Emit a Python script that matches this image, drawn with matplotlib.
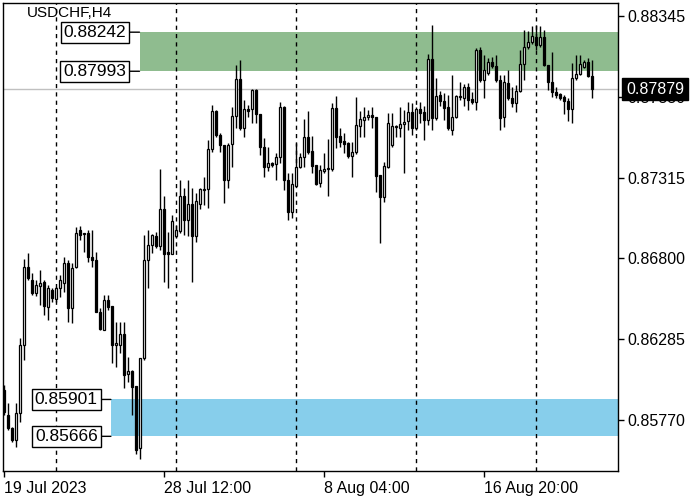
import numpy as np
import pandas as pd
import matplotlib
matplotlib.use("Agg")
import matplotlib.pyplot as plt
from matplotlib.patches import Rectangle
from matplotlib.transforms import blended_transform_factory

plt.rcParams['font.family'] = ['Liberation Sans', 'DejaVu Sans']

symbol = "USDCHF,H4"
start_time = "2023-07-19 20:00"

opens = [0.85961, 0.85802, 0.85719, 0.85642, 0.85815, 0.86248, 0.86745, 0.86662, 0.86579, 0.86624,
         0.86650, 0.86490, 0.86599, 0.86541, 0.86611, 0.86643, 0.86771, 0.86484, 0.86745, 0.86981,
         0.86962, 0.86962, 0.86809, 0.86790, 0.86458, 0.86344, 0.86535, 0.86497, 0.86248, 0.86248,
         0.86318, 0.86063, 0.86082, 0.85987, 0.85591, 0.86165, 0.86790, 0.86885, 0.86943, 0.86879,
         0.87115, 0.86841, 0.86828, 0.86943, 0.86975, 0.87198, 0.87045, 0.87147, 0.86943, 0.87147,
         0.87236, 0.87242, 0.87497, 0.87739, 0.87586, 0.87523, 0.87300, 0.87529, 0.87708, 0.87943,
         0.87631, 0.87752, 0.87752, 0.87873, 0.87720, 0.87510, 0.87383, 0.87408, 0.87402, 0.87446,
         0.87765, 0.87300, 0.87096, 0.87261, 0.87383, 0.87446, 0.87574, 0.87484, 0.87395, 0.87281,
         0.87357, 0.87370, 0.87370, 0.87759, 0.87580, 0.87548, 0.87535, 0.87453, 0.87478, 0.87644,
         0.87682, 0.87701, 0.87714, 0.87701, 0.87332, 0.87191, 0.87383, 0.87523, 0.87637, 0.87631,
         0.87657, 0.87676, 0.87733, 0.87631, 0.87752, 0.87733, 0.87682, 0.88071, 0.87695, 0.87841,
         0.87803, 0.87765, 0.87618, 0.87701, 0.87829, 0.87822, 0.87892, 0.87816, 0.87797, 0.88128,
         0.87937, 0.87982, 0.88052, 0.88026, 0.87937, 0.87701, 0.87918, 0.87822, 0.87790, 0.87867,
         0.88039, 0.88147, 0.88179, 0.88211, 0.88160, 0.88211, 0.88033, 0.87924, 0.87861, 0.87848,
         0.87829, 0.87803, 0.87752, 0.87950, 0.87975, 0.88020, 0.88052, 0.87963]

highs = [0.85993, 0.85878, 0.85725, 0.85878, 0.86293, 0.86796, 0.86834, 0.86707, 0.86662, 0.86726,
         0.86662, 0.86630, 0.86611, 0.86618, 0.86694, 0.86809, 0.86790, 0.86771, 0.87000, 0.87006,
         0.86962, 0.86981, 0.86981, 0.86841, 0.86484, 0.86567, 0.86567, 0.86497, 0.86395, 0.86395,
         0.86395, 0.86172, 0.86089, 0.85987, 0.86165, 0.86949, 0.86981, 0.86956, 0.86968, 0.87370,
         0.87198, 0.86968, 0.87077, 0.87013, 0.87300, 0.87249, 0.87300, 0.87249, 0.87217, 0.87249,
         0.87319, 0.87555, 0.87778, 0.87746, 0.87599, 0.87523, 0.87535, 0.87765, 0.88033, 0.88065,
         0.87810, 0.87778, 0.87880, 0.87880, 0.87720, 0.87567, 0.87510, 0.87414, 0.87472, 0.87797,
         0.87771, 0.87344, 0.87344, 0.87535, 0.87472, 0.87688, 0.87739, 0.87580, 0.87395, 0.87395,
         0.87472, 0.87561, 0.87790, 0.87835, 0.87631, 0.87599, 0.87542, 0.87542, 0.87829, 0.87739,
         0.87765, 0.87746, 0.87765, 0.87701, 0.87332, 0.87414, 0.87727, 0.87727, 0.87650, 0.87765,
         0.87746, 0.87797, 0.87790, 0.87765, 0.87797, 0.87771, 0.88103, 0.88288, 0.87950, 0.87867,
         0.87854, 0.87841, 0.87969, 0.87841, 0.87924, 0.87912, 0.87918, 0.87861, 0.88141, 0.88147,
         0.88096, 0.88077, 0.88084, 0.88096, 0.87969, 0.87969, 0.88001, 0.87892, 0.87905, 0.88128,
         0.88256, 0.88249, 0.88281, 0.88288, 0.88281, 0.88256, 0.88033, 0.88116, 0.87892, 0.87854,
         0.87841, 0.87822, 0.88045, 0.88096, 0.88096, 0.88065, 0.88077, 0.88065]

lows = [0.85802, 0.85706, 0.85630, 0.85598, 0.85757, 0.86152, 0.86662, 0.86567, 0.86560, 0.86503,
        0.86439, 0.86407, 0.86522, 0.86522, 0.86554, 0.86586, 0.86395, 0.86388, 0.86739, 0.86917,
        0.86841, 0.86777, 0.86745, 0.86458, 0.86344, 0.86344, 0.86471, 0.86133, 0.86108, 0.86197,
        0.85974, 0.86012, 0.85802, 0.85553, 0.85521, 0.86152, 0.86611, 0.86834, 0.86866, 0.86854,
        0.86650, 0.86611, 0.86828, 0.86930, 0.86962, 0.86949, 0.86943, 0.86650, 0.86904, 0.87115,
        0.87140, 0.87121, 0.87478, 0.87574, 0.87478, 0.87153, 0.87249, 0.87383, 0.87631, 0.87618,
        0.87574, 0.87701, 0.87663, 0.87663, 0.87459, 0.87319, 0.87357, 0.87383, 0.87300, 0.87408,
        0.87236, 0.87045, 0.87058, 0.87255, 0.87376, 0.87383, 0.87465, 0.87344, 0.87268, 0.87255,
        0.87344, 0.87198, 0.87357, 0.87504, 0.87510, 0.87472, 0.87440, 0.87319, 0.87465, 0.87574,
        0.87574, 0.87682, 0.87631, 0.87223, 0.86898, 0.87159, 0.87376, 0.87510, 0.87574, 0.87574,
        0.87344, 0.87618, 0.87586, 0.87618, 0.87663, 0.87555, 0.87650, 0.87618, 0.87682, 0.87771,
        0.87682, 0.87618, 0.87586, 0.87695, 0.87810, 0.87771, 0.87746, 0.87784, 0.87746, 0.87924,
        0.87822, 0.87969, 0.88014, 0.87924, 0.87618, 0.87637, 0.87810, 0.87765, 0.87733, 0.87861,
        0.87937, 0.88135, 0.88167, 0.88128, 0.88147, 0.88026, 0.87873, 0.87829, 0.87822, 0.87810,
        0.87720, 0.87676, 0.87663, 0.87937, 0.87969, 0.88014, 0.87956, 0.87822]

closes = [0.85821, 0.85719, 0.85642, 0.85815, 0.86248, 0.86745, 0.86675, 0.86579, 0.86630, 0.86643,
          0.86497, 0.86611, 0.86548, 0.86611, 0.86662, 0.86771, 0.86484, 0.86739, 0.86962, 0.86949,
          0.86956, 0.86809, 0.86790, 0.86458, 0.86350, 0.86535, 0.86490, 0.86248, 0.86261, 0.86318,
          0.86057, 0.86082, 0.85980, 0.85579, 0.86165, 0.86790, 0.86885, 0.86949, 0.86879, 0.87115,
          0.86828, 0.86828, 0.87038, 0.86981, 0.87198, 0.87045, 0.87147, 0.86943, 0.87166, 0.87242,
          0.87242, 0.87497, 0.87739, 0.87586, 0.87523, 0.87300, 0.87523, 0.87708, 0.87943, 0.87631,
          0.87752, 0.87739, 0.87873, 0.87720, 0.87510, 0.87383, 0.87408, 0.87395, 0.87446, 0.87765,
          0.87300, 0.87096, 0.87274, 0.87383, 0.87446, 0.87574, 0.87478, 0.87389, 0.87274, 0.87363,
          0.87370, 0.87376, 0.87759, 0.87574, 0.87542, 0.87529, 0.87453, 0.87478, 0.87650, 0.87688,
          0.87701, 0.87714, 0.87701, 0.87325, 0.87191, 0.87389, 0.87663, 0.87644, 0.87644, 0.87657,
          0.87669, 0.87733, 0.87631, 0.87752, 0.87727, 0.87682, 0.88071, 0.87695, 0.87835, 0.87803,
          0.87759, 0.87631, 0.87701, 0.87835, 0.87835, 0.87892, 0.87810, 0.87797, 0.88128, 0.87937,
          0.88001, 0.88052, 0.88026, 0.87937, 0.87695, 0.87924, 0.87822, 0.87790, 0.87867, 0.88039,
          0.88147, 0.88179, 0.88218, 0.88160, 0.88211, 0.88033, 0.87924, 0.87861, 0.87841, 0.87822,
          0.87803, 0.87752, 0.87950, 0.87975, 0.88039, 0.88052, 0.87963, 0.87879]

y_ticks = [0.88345, 0.87830, 0.87315, 0.86800, 0.86285, 0.85770]
zone_upper = [0.87993, 0.88242]
zone_lower = [0.85666, 0.85901]

o = np.array(opens); h = np.array(highs); l = np.array(lows); c = np.array(closes)
n = len(o)
idx = np.arange(n)
dates = pd.date_range(start_time, periods=3 * n, freq="4h")
dates = dates[dates.weekday < 5][:n]

fig = plt.figure(figsize=(7, 5), dpi=100)
ax = fig.add_axes([3 / 700, 1 - 471 / 500, 615 / 700, 468 / 500])
xmin, xmax = -0.175, 153.575
ax.set_xlim(xmin, xmax)
ax.set_ylim(0.85445, 0.88428)

# zones
ax.add_patch(Rectangle((33.95, zone_upper[0]), xmax - 33.95 + 5, zone_upper[1] - zone_upper[0],
                       facecolor="#8fbc8f", edgecolor="none", zorder=0.5))
ax.add_patch(Rectangle((26.8, zone_lower[0]), xmax - 26.8 + 5, zone_lower[1] - zone_lower[0],
                       facecolor="#87ceeb", edgecolor="none", zorder=0.5))

# week separators
for i in idx[(dates.weekday == 0) & (dates.hour == 0)]:
    ax.axvline(i, color="black", lw=1, ls=(0, (3, 3)), zorder=1)

# last price line
ax.axhline(c[-1], color="#c0c0c0", lw=1, zorder=1.5)

# candles
up = c >= o
ax.vlines(idx, l, h, color="black", lw=1, zorder=3)
ax.bar(idx, np.maximum(np.abs(c - o), 1e-6), bottom=np.minimum(o, c), width=0.55,
       color=np.where(up, "white", "black"), edgecolor="black", linewidth=0.9, zorder=4)

# zone labels
for x0, vals in [(33.95, zone_upper), (26.8, zone_lower)]:
    for v in vals:
        ax.annotate(f"{v:.5f}", xy=(x0, v), xytext=(-9.5, 0), textcoords="offset points",
                    ha="right", va="center", fontsize=12.5, color="black", zorder=6,
                    bbox=dict(boxstyle="square,pad=0.18", fc="white", ec="black", lw=1),
                    arrowprops=dict(arrowstyle="-", color="black", lw=1, shrinkA=0, shrinkB=0))

ax.text((27 - 3) / 615, 1 - 3 / 468, symbol, transform=ax.transAxes, ha="left", va="top",
        fontsize=11, color="black", zorder=6)

# axes styling
for s in ax.spines.values():
    s.set_color("black"); s.set_linewidth(1)
ax.yaxis.tick_right()
ax.set_yticks(y_ticks)
ax.set_yticklabels([f"{t:.5f}" for t in y_ticks])
ax.tick_params(axis="y", direction="out", length=4, width=1, labelsize=11.5, pad=3)
xt = list(range(0, n, 40))
ax.set_xticks(xt)
xl = []
for k, i in enumerate(xt):
    d = dates[i]
    xl.append(f"{d.day} {d:%b %Y}" if k == 0 else f"{d.day} {d:%b %H:%M}")
ax.set_xticklabels(xl)
for lbl in ax.get_xticklabels():
    lbl.set_ha("left")
ax.tick_params(axis="x", direction="out", length=4, width=1, labelsize=11.5, pad=3)

tr = blended_transform_factory(ax.transAxes, ax.transData)
ax.text((626 - 3) / 615, c[-1], f"{c[-1]:.5f}", transform=tr, ha="left", va="center",
        fontsize=11.5, color="white", zorder=10, clip_on=False,
        bbox=dict(boxstyle="square,pad=0.22", fc="black", ec="black"))

fig.savefig("out.png", dpi=100)
